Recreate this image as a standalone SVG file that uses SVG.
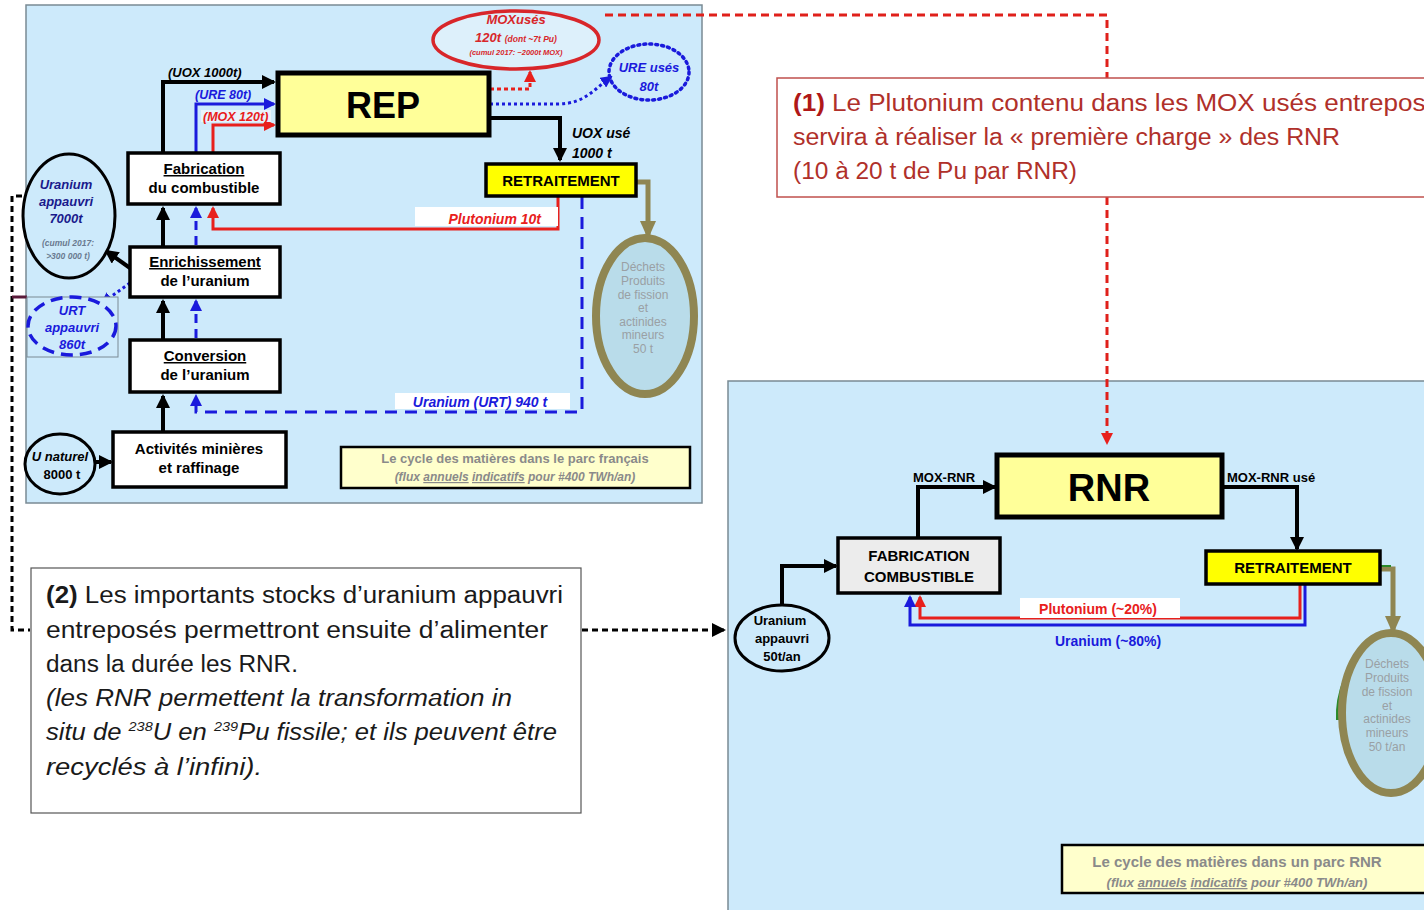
<svg xmlns="http://www.w3.org/2000/svg" width="1424" height="910" viewBox="0 0 1424 910">
<defs>
<marker id="ak" markerUnits="userSpaceOnUse" markerWidth="14" markerHeight="14" refX="12" refY="7" orient="auto"><path d="M0,0 L14,7 L0,14 z" fill="#000"/></marker>
<marker id="ab" markerUnits="userSpaceOnUse" markerWidth="12" markerHeight="12" refX="10" refY="6" orient="auto"><path d="M0,0 L12,6 L0,12 z" fill="#1a1adc"/></marker>
<marker id="ar" markerUnits="userSpaceOnUse" markerWidth="12" markerHeight="12" refX="10" refY="6" orient="auto"><path d="M0,0 L12,6 L0,12 z" fill="#e8201c"/></marker>
<marker id="ao" markerUnits="userSpaceOnUse" markerWidth="18" markerHeight="16" refX="14" refY="8" orient="auto"><path d="M0,0 L18,8 L0,16 z" fill="#8f8652"/></marker>
<style>
.panel{fill:#cdeafb;stroke:#7a8a94;stroke-width:1.5}
.box{fill:#fff;stroke:#000;stroke-width:3.5}
.yel{fill:#ffff99;stroke:#000;stroke-width:5}
.ret{fill:#ffff00;stroke:#000;stroke-width:3.5}
.legend{fill:#ffffcc;stroke:#000;stroke-width:2.5}
.t{font-family:"Liberation Sans",Arial,sans-serif;font-weight:bold;text-anchor:middle}
.ti{font-family:"Liberation Sans",Arial,sans-serif;font-weight:bold;font-style:italic}
.tl{font-family:"Liberation Sans",Arial,sans-serif;font-weight:bold;font-style:italic;fill:#8a8a8a;text-anchor:middle}
.dech{font-family:"Liberation Sans",Arial,sans-serif;font-size:12px;fill:#9aa0a4;text-anchor:middle}
.note{font-family:"Liberation Sans",Arial,sans-serif;font-size:23px}
.blk{fill:none;stroke:#000;stroke-width:4}
.blu{fill:none;stroke:#1a1adc;stroke-width:3}
.red{fill:none;stroke:#e8201c;stroke-width:3}
.olv{fill:none;stroke:#8f8652;stroke-width:5}
</style>
</defs>
<rect width="1424" height="910" fill="#fff"/>

<g id="panel-left">
<rect class="panel" x="26" y="5" width="676" height="498"/>
</g>
<g id="panel-right">
<rect class="panel" x="728" y="381" width="700" height="535"/>
</g>

<g id="connectors">
<path class="blk" d="M163,432 V396" marker-end="url(#ak)"/>
<path class="blk" d="M163,340 V301" marker-end="url(#ak)"/>
<path class="blk" d="M163,247 V208" marker-end="url(#ak)"/>
<path class="blk" d="M163,153 V82 H274" marker-end="url(#ak)"/>
<path class="blu" d="M196,153 V104 H274" marker-end="url(#ab)"/>
<path class="red" d="M213,153 V125 H274" marker-end="url(#ar)"/>
<path class="blu" d="M196,338 V301" stroke-dasharray="9,6" marker-end="url(#ab)"/>
<path class="blu" d="M196,245 V208" stroke-dasharray="9,6" marker-end="url(#ab)"/>
<path class="blu" d="M582,197 V412 H196 V396" stroke-dasharray="12,8" marker-end="url(#ab)"/>
<path class="red" d="M558,197 V229 H213 V208" marker-end="url(#ar)"/>
<path class="blk" d="M489,118 H560 V160" marker-end="url(#ak)"/>
<path class="olv" d="M636,182 H648 V235" marker-end="url(#ao)"/>
<path class="red" d="M490,89 H530 V72" stroke-dasharray="4,3" marker-end="url(#ar)"/>
<path class="blu" d="M490,104 H558 C585,104 595,88 611,77" stroke-dasharray="3,3" marker-end="url(#ab)"/>
<path class="blk" d="M130,268 L106,251" marker-end="url(#ak)"/>
<path class="blu" d="M130,283 L102,303" stroke-dasharray="3,3" marker-end="url(#ab)"/>
<path class="blk" d="M94,462 H111" marker-end="url(#ak)"/>
<path d="M605,15 H1107 V78" fill="none" stroke="#e0201b" stroke-width="3" stroke-dasharray="8,5"/>
<path d="M1107,197 V443" fill="none" stroke="#e0201b" stroke-width="3" stroke-dasharray="8,5" marker-end="url(#ar)"/>
<path d="M22,196 H12 V630 H30" fill="none" stroke="#000" stroke-width="3" stroke-dasharray="6,4"/>
<path d="M582,630 H724" fill="none" stroke="#000" stroke-width="3" stroke-dasharray="6,4" marker-end="url(#ak)"/>
<path d="M12,297 H27" fill="none" stroke="#5a1a3a" stroke-width="3"/>
<path class="blk" d="M782,605 V566 H836" stroke-width="3" marker-end="url(#ak)"/>
<path class="blk" d="M918,538 V487 H995" stroke-width="3" marker-end="url(#ak)"/>
<path class="blk" d="M1222,487 H1297 V549" stroke-width="3" marker-end="url(#ak)"/>
<path class="red" d="M1300,584 V618 H920 V597" marker-end="url(#ar)"/>
<path class="blu" d="M1305,584 V625 H910 V597" marker-end="url(#ab)"/>
<path class="olv" d="M1380,569 H1393 V630" marker-end="url(#ao)"/>
<path d="M1381,566 H1391" fill="none" stroke="#2a8a2a" stroke-width="2"/>
</g>

<g id="lbl-uox"><text class="ti" x="168" y="77" font-size="13">(UOX 1000t)</text></g>
<g id="lbl-ure"><text class="ti" x="195" y="99" font-size="12.5" fill="#1a1adc">(URE 80t)</text></g>
<g id="lbl-mox"><rect x="201" y="110" width="70" height="12" fill="#e8f4fb"/><text class="ti" x="203" y="121" font-size="12.5" fill="#e8201c">(MOX 120t)</text></g>

<g id="rep">
<rect class="yel" x="278" y="73" width="211" height="62"/>
<text class="t" x="383" y="118" font-size="36">REP</text>
</g>

<g id="fabrication">
<rect class="box" x="128" y="153" width="152" height="51"/>
<text class="t" x="204" y="174" font-size="15" text-decoration="underline">Fabrication</text>
<text class="t" x="204" y="193" font-size="15">du combustible</text>
</g>
<g id="enrichissement">
<rect class="box" x="130" y="247" width="150" height="50"/>
<text class="t" x="205" y="267" font-size="15" text-decoration="underline">Enrichissement</text>
<text class="t" x="205" y="286" font-size="15">de l’uranium</text>
</g>
<g id="conversion">
<rect class="box" x="130" y="340" width="150" height="52"/>
<text class="t" x="205" y="361" font-size="15" text-decoration="underline">Conversion</text>
<text class="t" x="205" y="380" font-size="15">de l’uranium</text>
</g>
<g id="activites">
<rect class="box" x="113" y="432" width="173" height="55"/>
<text class="t" x="199" y="454" font-size="15">Activités minières</text>
<text class="t" x="199" y="473" font-size="15">et raffinage</text>
</g>

<g id="retraitement">
<rect class="ret" x="486" y="164" width="150" height="32"/>
<text class="t" x="561" y="186" font-size="15">RETRAITEMENT</text>
</g>
<g id="lbl-uoxuse">
<text class="ti" x="572" y="138" font-size="14">UOX usé</text>
<text class="ti" x="572" y="158" font-size="14">1000 t</text>
</g>
<g id="lbl-plutonium">
<rect x="415" y="207" width="143" height="19" fill="#fff"/>
<text class="ti" x="541" y="224" font-size="14" fill="#e8201c" text-anchor="end">Plutonium 10t</text>
</g>
<g id="lbl-urt">
<rect x="395" y="393" width="175" height="16" fill="#fff"/>
<text class="ti" x="480" y="407" font-size="14" fill="#1a1adc" text-anchor="middle">Uranium (URT) 940 t</text>
</g>

<g id="dechets-left">
<ellipse cx="645" cy="316" rx="49" ry="78" fill="#b9dcea" stroke="#8f8652" stroke-width="8"/>
<text class="dech" x="643" y="271">Déchets</text>
<text class="dech" x="643" y="285">Produits</text>
<text class="dech" x="643" y="299">de fission</text>
<text class="dech" x="643" y="312">et</text>
<text class="dech" x="643" y="326">actinides</text>
<text class="dech" x="643" y="339">mineurs</text>
<text class="dech" x="643" y="353">50 t</text>
</g>

<g id="moxuses">
<ellipse cx="516" cy="40" rx="83" ry="29" fill="#ddf0fb" stroke="#d8262a" stroke-width="3.5"/>
<text class="ti" x="516" y="24" font-size="13" fill="#d8262a" text-anchor="middle">MOXusés</text>
<text class="ti" x="516" y="42" font-size="13" fill="#d8262a" text-anchor="middle">120t <tspan font-size="8.5">(dont ~7t Pu)</tspan></text>
<text class="ti" x="516" y="55" font-size="7.5" fill="#d8262a" text-anchor="middle">(cumul 2017: ~2000t MOX)</text>
</g>
<g id="ureuses">
<ellipse cx="649" cy="72" rx="40" ry="28" fill="none" stroke="#1a1adc" stroke-width="3.5" stroke-dasharray="2,4" stroke-linecap="round"/>
<text class="ti" x="649" y="72" font-size="13" fill="#1a1adc" text-anchor="middle">URE usés</text>
<text class="ti" x="649" y="91" font-size="13" fill="#1a1adc" text-anchor="middle">80t</text>
</g>

<g id="u-appauvri">
<ellipse cx="69" cy="216" rx="46" ry="62" fill="#cdeafb" stroke="#000" stroke-width="3"/>
<text class="ti" x="66" y="189" font-size="13" fill="#1a1a8c" text-anchor="middle">Uranium</text>
<text class="ti" x="66" y="206" font-size="13" fill="#1a1a8c" text-anchor="middle">appauvri</text>
<text class="ti" x="66" y="223" font-size="13" fill="#1a1a8c" text-anchor="middle">7000t</text>
<text class="ti" x="68" y="246" font-size="8.5" fill="#6a7a90" text-anchor="middle">(cumul 2017:</text>
<text class="ti" x="68" y="259" font-size="8.5" fill="#6a7a90" text-anchor="middle">&gt;300 000 t)</text>
</g>
<g id="urt-appauvri">
<rect x="27" y="297" width="91" height="60" fill="#cdeafb" stroke="#7a8a94" stroke-width="1"/>
<ellipse cx="72" cy="326" rx="44" ry="29" fill="none" stroke="#1a1adc" stroke-width="3.5" stroke-dasharray="12,7"/>
<text class="ti" x="72" y="315" font-size="13" fill="#1a1adc" text-anchor="middle">URT</text>
<text class="ti" x="72" y="332" font-size="13" fill="#1a1adc" text-anchor="middle">appauvri</text>
<text class="ti" x="72" y="349" font-size="13" fill="#1a1adc" text-anchor="middle">860t</text>
</g>
<g id="u-naturel">
<ellipse cx="60" cy="464" rx="35" ry="30" fill="#cdeafb" stroke="#000" stroke-width="3"/>
<text class="ti" x="60" y="461" font-size="13" text-anchor="middle">U naturel</text>
<text class="t" x="62" y="479" font-size="13">8000 t</text>
</g>

<g id="legend-left">
<rect class="legend" x="341" y="447" width="349" height="41"/>
<text class="t" x="515" y="463" font-size="13" fill="#8a8a8a">Le cycle des matières dans le parc français</text>
<text class="tl" x="515" y="481" font-size="12">(flux <tspan text-decoration="underline">annuels</tspan> <tspan text-decoration="underline">indicatifs</tspan> pour #400 TWh/an)</text>
</g>

<g id="note1">
<rect x="777" y="78" width="660" height="119" fill="#fff" stroke="#c0504d" stroke-width="1.5"/>
<text class="note" x="793" y="111" fill="#b0302a" textLength="660" lengthAdjust="spacingAndGlyphs"><tspan font-weight="bold" fill="#b01818">(1)</tspan> Le Plutonium contenu dans les MOX usés entreposés</text>
<text class="note" x="793" y="145" fill="#b0302a" textLength="547" lengthAdjust="spacingAndGlyphs">servira à réaliser la « première charge » des RNR</text>
<text class="note" x="793" y="179" fill="#b0302a" textLength="284" lengthAdjust="spacingAndGlyphs">(10 à 20 t de Pu par RNR)</text>
</g>

<g id="note2">
<rect x="31" y="568" width="550" height="245" fill="#fff" stroke="#555" stroke-width="1.2"/>
<text class="note" x="46" y="603" fill="#1a1a1a" textLength="517" lengthAdjust="spacingAndGlyphs"><tspan font-weight="bold">(2)</tspan> Les importants stocks d’uranium appauvri</text>
<text class="note" x="46" y="638" fill="#1a1a1a" textLength="502" lengthAdjust="spacingAndGlyphs">entreposés permettront ensuite d’alimenter</text>
<text class="note" x="46" y="672" fill="#1a1a1a" textLength="252" lengthAdjust="spacingAndGlyphs">dans la durée les RNR.</text>
<text class="note" x="46" y="706" fill="#1a1a1a" font-style="italic" textLength="466" lengthAdjust="spacingAndGlyphs">(les RNR permettent la transformation in</text>
<text class="note" x="46" y="740" fill="#1a1a1a" font-style="italic" textLength="511" lengthAdjust="spacingAndGlyphs">situ de <tspan font-size="13" dy="-9">238</tspan><tspan dy="9">U en </tspan><tspan font-size="13" dy="-9">239</tspan><tspan dy="9">Pu fissile;  et ils peuvent être</tspan></text>
<text class="note" x="46" y="775" fill="#1a1a1a" font-style="italic" textLength="216" lengthAdjust="spacingAndGlyphs">recyclés à l’infini).</text>
</g>

<g id="rnr">
<rect class="yel" x="997" y="455" width="225" height="62"/>
<text class="t" x="1109" y="501" font-size="38">RNR</text>
</g>
<g id="lbl-moxrnr"><text class="t" x="944" y="482" font-size="13">MOX-RNR</text></g>
<g id="lbl-moxrnruse"><text class="t" x="1227" y="482" font-size="13" style="text-anchor:start">MOX-RNR usé</text></g>
<g id="fab-rnr">
<rect x="838" y="538" width="162" height="55" fill="#ececec" stroke="#000" stroke-width="3.5"/>
<text class="t" x="919" y="561" font-size="15">FABRICATION</text>
<text class="t" x="919" y="582" font-size="15">COMBUSTIBLE</text>
</g>
<g id="ret-rnr">
<rect class="ret" x="1206" y="551" width="174" height="33"/>
<text class="t" x="1293" y="573" font-size="15">RETRAITEMENT</text>
</g>
<g id="lbl-pu20">
<rect x="1020" y="598" width="160" height="20" fill="#fff"/>
<text class="t" x="1098" y="614" font-size="14" fill="#e8201c">Plutonium (~20%)</text>
</g>
<g id="lbl-u80"><text class="t" x="1108" y="646" font-size="14" fill="#1a1adc">Uranium (~80%)</text></g>
<g id="u-appauvri-rnr">
<ellipse cx="782" cy="638" rx="47" ry="33" fill="#cdeafb" stroke="#000" stroke-width="3"/>
<text class="t" x="780" y="625" font-size="13">Uranium</text>
<text class="t" x="782" y="643" font-size="13">appauvri</text>
<text class="t" x="782" y="661" font-size="13">50t/an</text>
</g>
<g id="dechets-right">
<path d="M1345,680 Q1337,700 1338,720" fill="none" stroke="#2a8a2a" stroke-width="4"/>
<ellipse cx="1391" cy="713" rx="49" ry="80" fill="#b9dcea" stroke="#8f8652" stroke-width="8"/>
<text class="dech" x="1387" y="668">Déchets</text>
<text class="dech" x="1387" y="682">Produits</text>
<text class="dech" x="1387" y="696">de fission</text>
<text class="dech" x="1387" y="710">et</text>
<text class="dech" x="1387" y="723">actinides</text>
<text class="dech" x="1387" y="737">mineurs</text>
<text class="dech" x="1387" y="751">50 t/an</text>
</g>
<g id="legend-right">
<rect class="legend" x="1062" y="845" width="370" height="48"/>
<text class="t" x="1237" y="867" font-size="15" fill="#8a8a8a">Le cycle des matières dans un parc RNR</text>
<text class="tl" x="1237" y="887" font-size="13">(flux <tspan text-decoration="underline">annuels</tspan> <tspan text-decoration="underline">indicatifs</tspan> pour #400 TWh/an)</text>
</g>
</svg>
